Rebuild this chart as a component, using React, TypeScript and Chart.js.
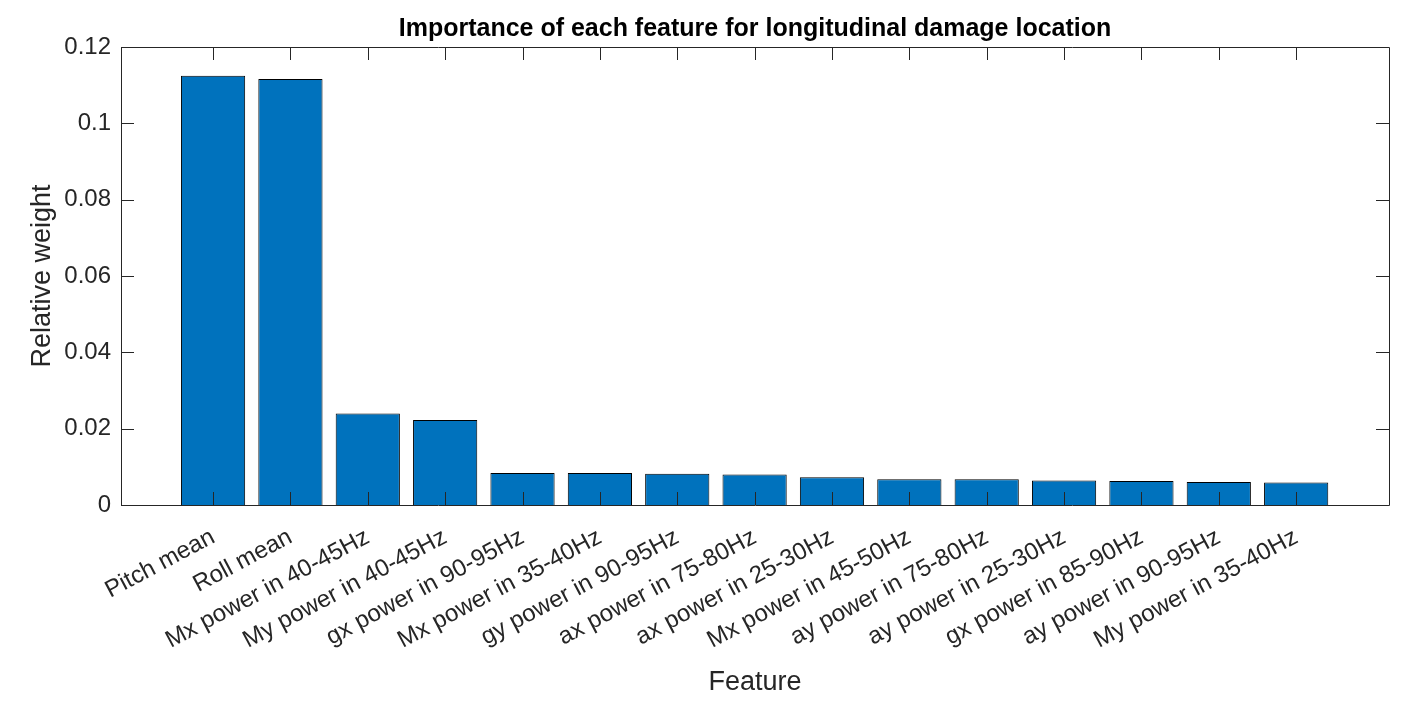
import React, { useEffect, useRef } from 'react';
import { Chart, registerables } from 'chart.js';

Chart.register(...registerables);

const features = [
  'Pitch mean',
  'Roll mean',
  'Mx power in 40-45Hz',
  'My power in 40-45Hz',
  'gx power in 90-95Hz',
  'Mx power in 35-40Hz',
  'gy power in 90-95Hz',
  'ax power in 75-80Hz',
  'ax power in 25-30Hz',
  'Mx power in 45-50Hz',
  'ay power in 75-80Hz',
  'ay power in 25-30Hz',
  'gx power in 85-90Hz',
  'ay power in 90-95Hz',
  'My power in 35-40Hz',
];

const weights = [
  0.1125, 0.1116, 0.0240, 0.0223, 0.0084, 0.0084, 0.0082, 0.0080, 0.0073,
  0.00675, 0.00675, 0.0064, 0.0063, 0.0060, 0.0059,
];

const yTicks = [0, 0.02, 0.04, 0.06, 0.08, 0.1, 0.12];

const FONT = "'Liberation Sans', Arial, Helvetica, sans-serif";
const AXIS = '#262626';
const TICK_LEN = 13;

// MATLAB-style box with inward ticks on all four sides
const boxTicks = {
  id: 'boxTicks',
  afterDatasetsDraw(chart: Chart) {
    const { ctx, chartArea } = chart;
    const { left, right, top, bottom } = chartArea;
    const x = chart.scales.x;
    const y = chart.scales.y;
    ctx.save();
    ctx.strokeStyle = AXIS;
    ctx.lineWidth = 1;
    ctx.beginPath();
    ctx.rect(Math.round(left) + 0.5, Math.round(top) + 0.5, Math.round(right - left), Math.round(bottom - top));
    x.ticks.forEach((t) => {
      const px = Math.round(x.getPixelForValue(t.value)) + 0.5;
      ctx.moveTo(px, bottom);
      ctx.lineTo(px, bottom - TICK_LEN);
      ctx.moveTo(px, top);
      ctx.lineTo(px, top + TICK_LEN);
    });
    y.ticks.forEach((t) => {
      const py = Math.round(y.getPixelForValue(t.value)) + 0.5;
      ctx.moveTo(left, py);
      ctx.lineTo(left + TICK_LEN, py);
      ctx.moveTo(right, py);
      ctx.lineTo(right - TICK_LEN, py);
    });
    ctx.stroke();
    ctx.restore();
  },
};

const BarChart: React.FC = () => {
  const ref = useRef<HTMLCanvasElement>(null);

  useEffect(() => {
    if (!ref.current) return;
    const chart = new Chart(ref.current, {
      type: 'bar',
      data: {
        datasets: [
          {
            label: 'Relative weight',
            data: weights.map((v, i) => ({ x: i, y: v })),
            backgroundColor: '#0072BD',
            borderColor: '#000000',
            borderWidth: 1,
            barPercentage: 0.83,
            categoryPercentage: 1,
          },
        ],
      },
      options: {
        animation: false,
        responsive: true,
        maintainAspectRatio: false,
        layout: { padding: { left: 0, right: 18, top: 0, bottom: 0 } },
        plugins: {
          legend: { display: false },
          tooltip: { enabled: false },
          title: {
            display: true,
            fullSize: false,
            text: 'Importance of each feature for longitudinal damage location',
            color: '#000000',
            font: { family: FONT, size: 25, weight: 'bold' },
            padding: { top: 14, bottom: 3 },
          },
        },
        scales: {
          x: {
            type: 'linear',
            offset: false,
            min: -1.19,
            max: 15.2,
            grid: { display: false, drawTicks: false, offset: false },
            border: { display: false },
            afterBuildTicks: (scale: any) => {
              scale.ticks = features.map((_, i) => ({ value: i }));
            },
            afterFit: (scale: any) => {
              scale.height = 197;
            },
            ticks: {
              autoSkip: false,
              minRotation: 28,
              maxRotation: 28,
              padding: 18,
              color: AXIS,
              font: { family: FONT, size: 24 },
              callback: (v: any) => features[v as number] ?? '',
            },
            title: {
              display: true,
              text: 'Feature',
              color: AXIS,
              font: { family: FONT, size: 27 },
              padding: { top: 0, bottom: 3 },
            },
          },
          y: {
            min: 0,
            max: 0.12,
            grid: { display: false, drawTicks: false },
            border: { display: false },
            afterBuildTicks: (scale: any) => {
              scale.ticks = yTicks.map((v) => ({ value: v }));
            },
            afterFit: (scale: any) => {
              scale.width = 121;
            },
            ticks: {
              padding: 10,
              color: AXIS,
              font: { family: FONT, size: 24 },
              callback: (v: any) => String(v),
            },
            title: {
              display: true,
              text: 'Relative weight',
              color: AXIS,
              font: { family: FONT, size: 27 },
              padding: { top: 26, bottom: 0 },
            },
          },
        },
      },
      plugins: [boxTicks],
    });
    return () => chart.destroy();
  }, []);

  return <canvas ref={ref} />;
};

export default function App() {
  return (
    <div
      style={{
        position: 'absolute',
        left: 0,
        top: 0,
        width: 1407,
        height: 702,
        background: '#ffffff',
      }}
    >
      <BarChart />
    </div>
  );
}
